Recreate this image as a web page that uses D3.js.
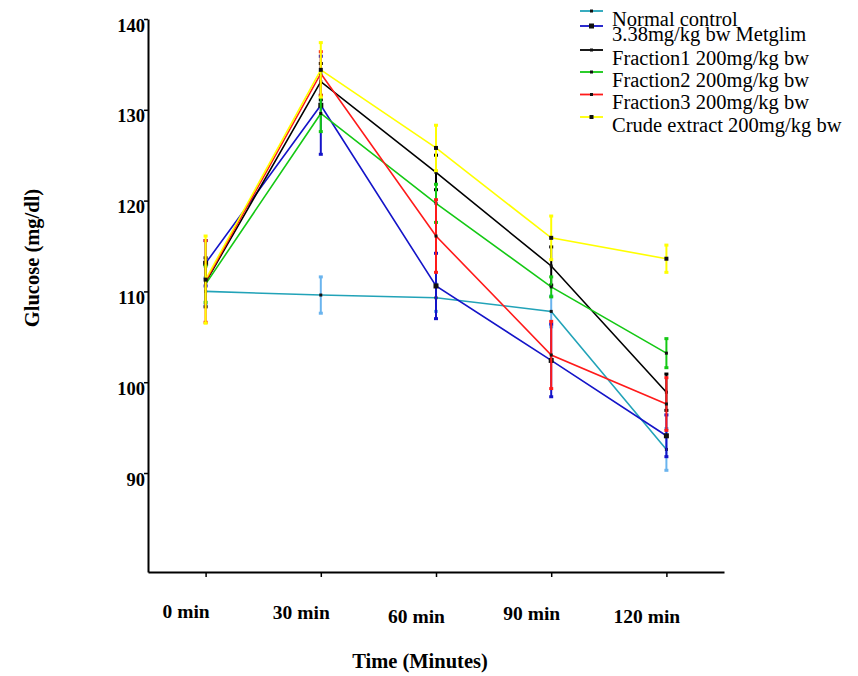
<!DOCTYPE html>
<html>
<head>
<meta charset="utf-8">
<script src="https://cdn.jsdelivr.net/npm/d3@7"></script>
<style>
  html, body { margin: 0; padding: 0; background: #fff; }
  svg { display: block; }
</style>
</head>
<body>
<svg id="chart" width="858" height="676"></svg>
<script>
// ---- data ----
const categories = ["0 min", "30 min", "60 min", "90 min", "120 min"];
const seriesNames = [
  "Normal control",
  "3.38mg/kg bw Metglim",
  "Fraction1 200mg/kg bw",
  "Fraction2 200mg/kg bw",
  "Fraction3 200mg/kg bw",
  "Crude extract 200mg/kg bw"
];
const normalControl = [110.0, 109.6, 109.3, 107.8, 92.6];
const metglim       = [113.1, 130.5, 110.6, 102.4, 94.1];
const fraction1     = [111.0, 133.1, 123.1, 112.8, 98.9];
const fraction2     = [110.8, 129.6, 119.7, 110.5, 103.2];
const fraction3     = [111.1, 134.0, 116.1, 103.0, 97.6];
const crudeExtract  = [111.3, 134.4, 125.8, 115.9, 113.6];

const normalControlErr = [1.5, 2.0, 1.5, 1.7, 2.3];
const metglimErr       = [2.5, 5.4, 3.6, 4.0, 2.3];
const fraction1Err     = [2.7, 2.0, 1.9, 2.1, 2.0];
const fraction2Err     = [2.0, 2.0, 2.1, 1.1, 1.6];
const fraction3Err     = [4.5, 2.4, 4.0, 3.7, 2.9];
const crudeExtractErr  = [4.8, 3.0, 2.5, 2.4, 1.5];

const yTickValues = [90, 100, 110, 120, 130, 140];

// ---- styles ----
const lineColors = ["#22a3b8", "#1414c8", "#000000", "#14c814", "#ff1a1a", "#ffff00"];
const barColors  = ["#6ab4ee", "#1414c8", "#000000", "#14c814", "#ff1a1a", "#ffff00"];
const markerSize = [3, 5, 3, 3, 3, 4];

const seriesValues = [normalControl, metglim, fraction1, fraction2, fraction3, crudeExtract];
const seriesErrs = [normalControlErr, metglimErr, fraction1Err, fraction2Err, fraction3Err, crudeExtractErr];
const series = seriesNames.map((name, i) => ({
  name, color: lineColors[i], barColor: barColors[i], ms: markerSize[i],
  points: categories.map((c, j) => ({ cat: c, v: seriesValues[i][j], e: seriesErrs[i][j] }))
}));

const svg = d3.select("#chart");
const serif = "'Liberation Serif', 'Times New Roman', serif";

const x = d3.scalePoint().domain(categories).range([148, 724]).padding(0.5);
const y = d3.scaleLinear().domain([79.1, 140]).range([572, 19]);

// axes
const yAxis = svg.append("g").attr("transform", "translate(148,0)")
  .call(d3.axisLeft(y).tickValues(yTickValues).tickSize(4).tickSizeOuter(0).tickFormat(d3.format("d")));
yAxis.select(".domain").attr("stroke", "#000").attr("stroke-width", 2);
yAxis.selectAll(".tick line").attr("stroke", "#000").attr("stroke-width", 1.5);
yAxis.selectAll(".tick text")
  .attr("x", -3).attr("dy", null).attr("y", 12)
  .attr("font-family", serif).attr("font-size", 18.5).attr("font-weight", "bold").attr("fill", "#000");

const xAxis = svg.append("g").attr("transform", "translate(0,572)")
  .call(d3.axisBottom(x).tickSize(5).tickSizeOuter(0));
xAxis.select(".domain").attr("stroke", "#000").attr("stroke-width", 2);
xAxis.selectAll(".tick line").attr("stroke", "#000").attr("stroke-width", 1.5);
const tickDy = [46, 47, 51, 48, 51];
xAxis.selectAll(".tick text")
  .attr("x", -20).attr("dy", null).attr("y", (d, i) => tickDy[i])
  .attr("font-family", serif).attr("font-size", 19.5).attr("font-weight", "bold").attr("fill", "#000");

// axis titles
svg.append("text").attr("x", 420).attr("y", 668).attr("text-anchor", "middle")
  .attr("font-family", serif).attr("font-size", 20.5).attr("font-weight", "bold")
  .text("Time (Minutes)");
svg.append("text").attr("transform", "translate(39,258) rotate(-90)").attr("text-anchor", "middle")
  .attr("font-family", serif).attr("font-size", 20.5).attr("font-weight", "bold")
  .text("Glucose (mg/dl)");

// series
const line = d3.line().x(d => x(d.cat)).y(d => y(d.v));
series.forEach(s => {
  const g = svg.append("g");
  s.points.forEach(p => {
    const cx = x(p.cat);
    g.append("line").attr("x1", cx).attr("x2", cx).attr("y1", y(p.v + p.e)).attr("y2", y(p.v - p.e))
      .attr("stroke", s.barColor).attr("stroke-width", 2);
    [p.v + p.e, p.v - p.e].forEach(t => {
      g.append("rect").attr("x", cx - 2).attr("y", y(t) - 1.5).attr("width", 4).attr("height", 3)
        .attr("fill", s.barColor);
    });
  });
  g.append("path").datum(s.points).attr("d", line)
    .attr("fill", "none").attr("stroke", s.color).attr("stroke-width", 1.6);
  g.selectAll("rect.pt").data(s.points).enter().append("rect").attr("class", "pt")
    .attr("x", d => x(d.cat) - s.ms / 2).attr("y", d => y(d.v) - s.ms / 2)
    .attr("width", s.ms).attr("height", s.ms).attr("fill", "#111");
});

// legend
const legendLineY = [11, 26, 50, 72, 94.5, 117];
const lg = svg.append("g");
series.forEach((s, i) => {
  const ly = legendLineY[i];
  lg.append("line").attr("x1", 580).attr("x2", 603).attr("y1", ly).attr("y2", ly)
    .attr("stroke", s.color).attr("stroke-width", 1.8);
  lg.append("rect").attr("x", 591.5 - s.ms / 2).attr("y", ly - s.ms / 2).attr("width", s.ms).attr("height", s.ms)
    .attr("fill", "#111");
  lg.append("text").attr("x", 612).attr("y", ly + 14.5)
    .attr("font-family", serif).attr("font-size", 20.5).attr("fill", "#000")
    .text(s.name);
});
</script>
</body>
</html>
